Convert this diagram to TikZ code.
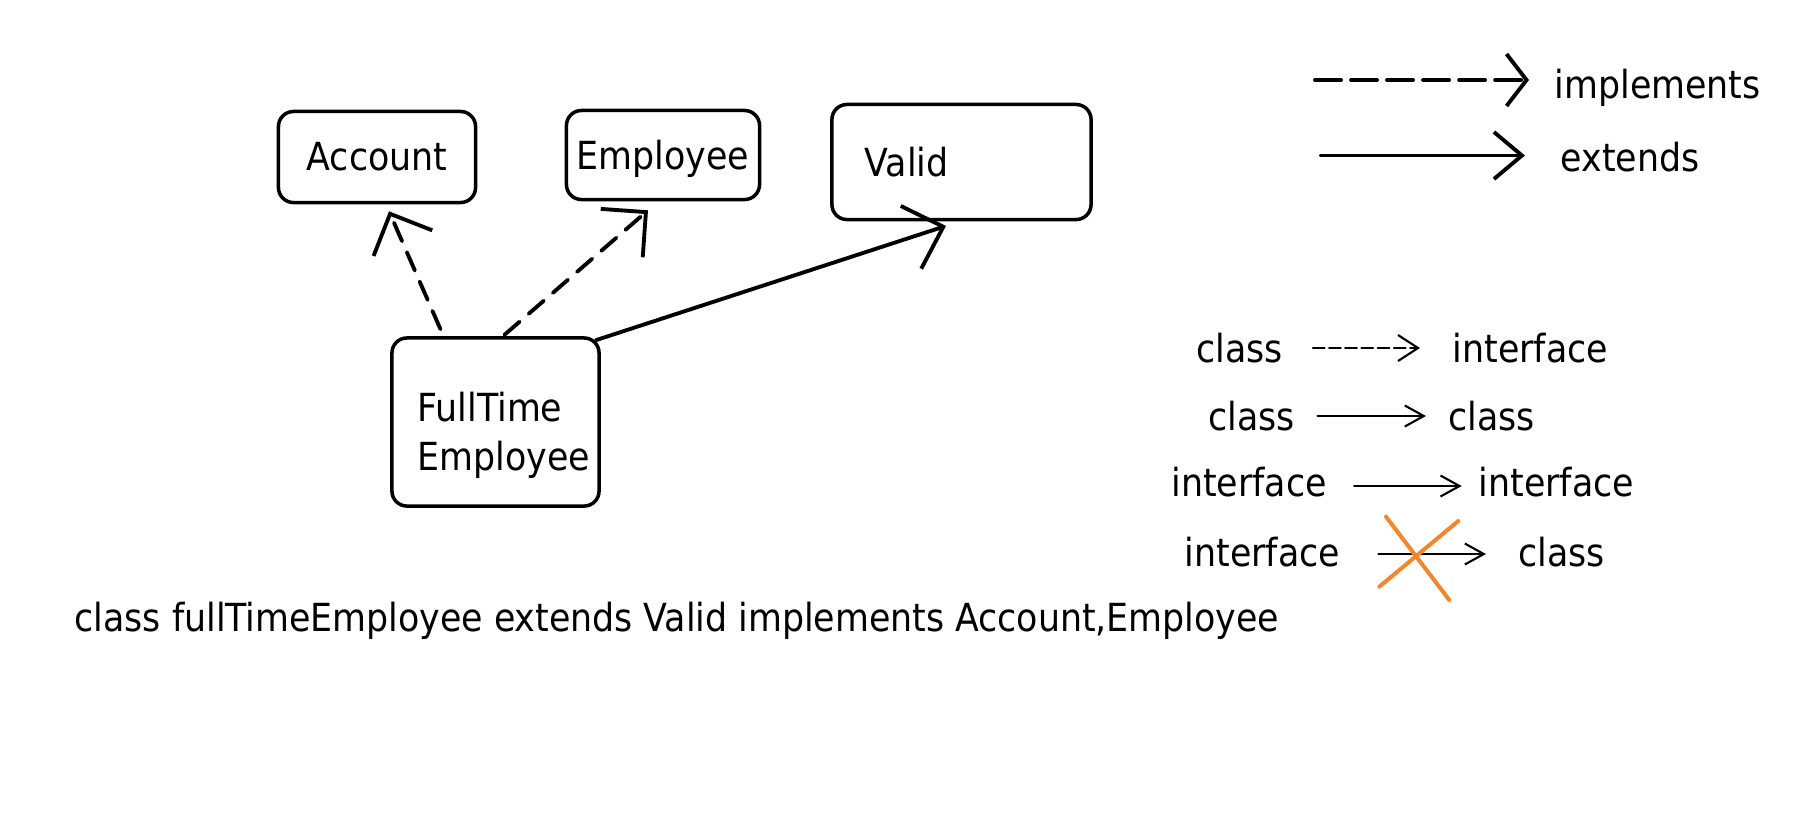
\documentclass[tikz,border=0pt]{standalone}
\usepackage{fontspec}
\setmainfont{DejaVu Sans Condensed}
\usetikzlibrary{arrows.meta}
\definecolor{crossorange}{HTML}{F4862E}

\begin{document}
\begin{tikzpicture}[x=0.01cm, y=-0.01cm, line cap=round,
  every node/.style={font=\fontsize{11}{14}\selectfont},
  box/.style={draw, line width=1pt, rounded corners=0.15cm, inner sep=0pt},
  word/.style={inner sep=0pt},
  implarrow/.style={line width=1.1pt, dash pattern=on 0.2cm off 0.12cm,
    -{Straight Barb[length=0.32cm, width=0.64cm, line width=1.1pt]}},
  extarrow/.style={line width=1.1pt,
    -{Straight Barb[length=0.34cm, width=0.66cm, line width=1.1pt]}},
  legimpl/.style={line width=1.1pt, dash pattern=on 0.26cm off 0.1cm,
    -{Straight Barb[length=0.2cm, width=0.52cm, line width=1.1pt]}},
  legext/.style={line width=1.1pt,
    -{Straight Barb[length=0.28cm, width=0.47cm, line width=1.1pt]}},
  thinimpl/.style={line width=0.6pt, dash pattern=on 0.117cm off 0.045cm,
    -{Straight Barb[length=0.2cm, width=0.26cm, line width=0.6pt]}},
  thinext/.style={line width=0.6pt,
    -{Straight Barb[length=0.19cm, width=0.21cm, line width=0.6pt]}},
  cross/.style={crossorange, line width=1.15pt}]
\useasboundingbox (0,0) rectangle (1820,820);

% class boxes
\node[box, minimum width=1.97cm, minimum height=0.91cm] (account) at (377,157) {Account};
\node[box, minimum width=1.93cm, minimum height=0.89cm, text depth=0pt] (employee) at (663,155) {Employee};
\node[box, minimum width=2.59cm, minimum height=1.15cm, text width=1.93cm, align=left] (valid) at (961.5,162) {Valid};
\node[box, minimum width=2.07cm, minimum height=1.68cm, text width=1.55cm, align=left] (fulltime) at (495.5,422) {\rule{0pt}{0.56cm}FullTime\\Employee};

\draw[implarrow] ([xshift=-0.55cm, yshift=0.07cm]fulltime.north) -- ([xshift=0.12cm, yshift=-0.07cm]account.south);
\draw[implarrow] ([xshift=0.09cm, yshift=0.014cm]fulltime.north) -- ([xshift=-0.15cm, yshift=-0.09cm]employee.south);
\draw[extarrow] ([xshift=-0.05cm, yshift=-0.04cm]fulltime.north east) -- ([xshift=-0.155cm, yshift=-0.046cm]valid.south);

% legend
\node[word, anchor=west] (implements) at (1554,88) {implements};
\node[word, anchor=west] (extends) at (1560,157) {extends};
\coordinate (implA) at (1315,80);
\coordinate (extA) at (1321,155.5);
\draw[legimpl] (implA) -- ([xshift=-0.25cm]implements.west |- implA);
\draw[legext] (extA) -- ([xshift=-0.35cm]extends.west |- extA);

% rules
\node[word, anchor=west] (cls1) at (1196,348) {class};
\node[word, anchor=west] (ifc1) at (1452,348) {interface};
\node[word, anchor=west] (cls2) at (1208,416) {class};
\node[word, anchor=west] (cls2b) at (1447.7,416) {class};
\node[word, anchor=west] (ifc3) at (1170.7,482) {interface};
\node[word, anchor=west] (ifc3b) at (1478,482) {interface};
\node[word, anchor=west] (ifc4) at (1184,552.5) {interface};
\node[word, anchor=west] (cls4) at (1517.7,552.5) {class};

\draw[thinimpl] ([xshift=0.29cm]cls1.east) -- ([xshift=-0.32cm]ifc1.west);
\draw[thinext] ([xshift=0.217cm]cls2.east) -- ([xshift=-0.217cm]cls2b.west);
\draw[thinext] ([xshift=0.267cm, yshift=-0.04cm]ifc3.east) -- ([xshift=-0.163cm, yshift=-0.04cm]ifc3b.west);
\draw[thinext] ([xshift=0.377cm, yshift=-0.015cm]ifc4.east) -- ([xshift=-0.317cm, yshift=-0.015cm]cls4.west);
\draw[cross] (1386,516.7) -- (1449.3,600);
\draw[cross] (1379.3,586.7) -- (1458.3,521);

\node[word, anchor=west] (decl) at (74,621) {class fullTimeEmployee extends Valid implements Account,Employee};
\end{tikzpicture}
\end{document}
